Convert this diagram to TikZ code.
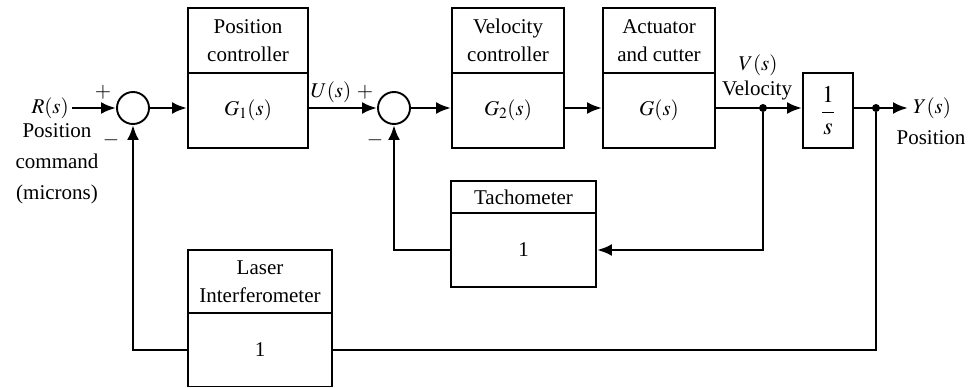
\documentclass[tikz,border=0pt]{standalone}
\usepackage{mathptmx}
\usepackage[no-math]{fontspec}
\setmainfont{Liberation Serif}
\usetikzlibrary{arrows.meta}
\begin{document}
\begin{tikzpicture}[x=1pt,y=-1pt, font=\fontsize{21}{28}\selectfont,
  box/.style={draw,line width=1.9pt,inner sep=0pt,align=center},
  sumc/.style={draw,circle,line width=1.9pt,minimum size=32pt,inner sep=0pt},
  wire/.style={line width=2.8pt},
  arr/.style={wire,-{Latex[length=15pt,width=12pt]}},
  jdot/.style={circle,fill,inner sep=0pt,minimum size=8pt},
  lbl/.style={inner sep=0pt,align=center}]
\useasboundingbox (0,0) rectangle (973,388);
% summing junctions
\node[sumc] (s1) at (133,108) {};
\node[sumc] (s2) at (394,108) {};
% position controller
\node[box,minimum width=120pt,minimum height=65pt] (pct) at (248,40.5) {Position\\controller};
\node[box,minimum width=120pt,minimum height=75pt] (pcb) at (248,110.5) {$G_1(s)$};
% velocity controller
\node[box,minimum width=112pt,minimum height=65pt] (vct) at (508,40.5) {Velocity\\controller};
\node[box,minimum width=112pt,minimum height=75pt] (vcb) at (508,110.5) {$G_2(s)$};
% actuator
\node[box,minimum width=112pt,minimum height=65pt] (act) at (659,40.5) {Actuator\\and cutter};
\node[box,minimum width=112pt,minimum height=75pt] (acb) at (659,110.5) {$G(s)$};
% integrator
\node[box,minimum width=50pt,minimum height=75pt,font=\fontsize{24}{28}\selectfont] (inte) at (828,110.5) {$\displaystyle\frac{1}{s}$};
% tachometer
\node[box,minimum width=145pt,minimum height=32pt] (tt) at (523.5,197) {Tachometer};
\node[box,minimum width=145pt,minimum height=74pt] (tb) at (523.5,250) {1};
% laser interferometer
\node[box,minimum width=144pt,minimum height=63pt] (lt) at (260,281.5) {Laser\\Interferometer};
\node[box,minimum width=144pt,minimum height=73pt] (lb) at (260,350) {1};
% junction points
\node[jdot] (j1) at (763,108) {};
\node[jdot] (j2) at (876,108) {};
\coordinate (rin) at (72,108);
\coordinate (yout) at (908,108);
% labels
\node[lbl,anchor=east] (rlab) at (69,108) {$R(s)$};
\node[lbl,anchor=north] (rtxt) at (57,123) {Position\\[3pt]command\\[3pt](microns)};
\node[lbl] (p1) at (103,92) {$+$};
\node[lbl] (m1) at (111,140) {$-$};
\node[lbl] (ulab) at (331,92) {$U(s)$};
\node[lbl] (p2) at (365,92) {$+$};
\node[lbl] (m2) at (375,140) {$-$};
\node[lbl] (vlab) at (758,65) {$V(s)$};
\node[lbl] (vtxt) at (757,90) {Velocity};
\node[lbl,anchor=west] (ylab) at (913,108) {$Y(s)$};
\node[lbl] (ytxt) at (931,138) {Position};
% connectors
\draw[arr] (rin) -- (s1);
\draw[arr] (s1) -- (pcb.west |- s1);
\draw[arr] (pcb.east |- s2) -- (s2);
\draw[arr] (s2) -- (vcb.west |- s2);
\draw[arr] (vcb.east |- s2) -- (acb.west |- s2);
\draw[arr] (acb.east |- s2) -- (inte.west |- s2);
\draw[arr] (inte.east |- s2) -- (yout);
\draw[arr] (j1) |- (tb.east);
\draw[arr] (tb.west) -| (s2.south);
\draw[wire] (j2) |- (lb.east);
\draw[arr] (lb.west) -| (s1.south);
\end{tikzpicture}
\end{document}
